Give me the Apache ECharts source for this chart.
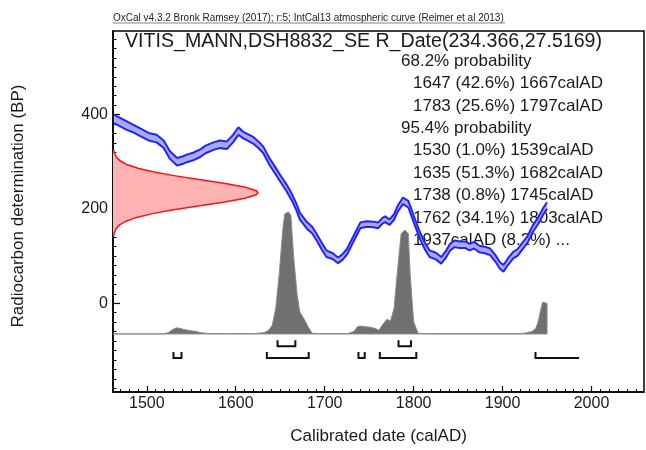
<!DOCTYPE html>
<html>
<head>
<meta charset="utf-8">
<title>OxCal R_Date VITIS_MANN,DSH8832_SE</title>
<script src="https://cdn.jsdelivr.net/npm/echarts@6.0.0/dist/echarts.min.js"></script>
<style>
html,body{margin:0;padding:0;background:#ffffff;}
#chart{width:646px;height:450px;}
</style>
</head>
<body>
<div id="chart"></div>
<script>
// ---------- data ----------
// IntCal13 calibration curve (calAD, 14C BP centre, 1-sigma)
const calYears = [1463,1470,1477,1485,1492,1502,1511,1519,1526,1534,1540,1545,1552,1560,1566,1575,1582,1590,1597,1603,1608,1613,1620,1626,1631,1638,1645,1650,1657,1663,1668,1672,1680,1686,1691,1697,1702,1709,1715,1720,1725,1732,1740,1747,1755,1760,1765,1768,1773,1778,1782,1788,1794,1797,1800,1807,1813,1818,1825,1831,1836,1841,1846,1852,1858,1863,1868,1874,1880,1886,1892,1897,1901,1906,1912,1917,1923,1928,1934,1940,1946,1950];
const calBP = [391,384,377,370,363,353,349,337,314,300,303,307,311,318,326,333,337,335,349,365,357,352,345,335,325,300,280,265,245,225,205,185,165,155,140,120,105,100,91,98,109,135,165,168,167,165,175,178,172,183,200,217,210,195,179,144,120,105,100,91,103,119,126,124,124,119,123,115,113,109,95,80,74,88,102,108,123,135,158,175,196,207];
const calSigma = [9,9,9,8,8,8,8,8,8,8, 8,8,8,8,8,8,8,8,8,8, 7,7,7,7,7,7,7,7,7,7, 7,7,7,7,7,7,7,6,6,6, 6,6,6,6,6,6,6,6,6,6, 6,7,7,7,7,7,7,7,7,7, 7,7,7,7,7,7,7,7,7,7, 7,7,7,7,7,7,7,7,7,7,7,7];

// Radiocarbon measurement distribution (BP value, drawn width in years from the left axis)
const rdBP = [142,150,158,166,174,182,190,198,206,214,222,230,234,238,246,254,262,270,278,286,294,302,310,318,326];
const rdWidth = [0.6,1.5,3.4,7.4,14.6,26.5,44.2,67.9,95.6,123.7,147.2,160.9,163,161.6,149.1,126.4,98.5,70.5,46.4,28.0,15.6,8.0,3.7,1.6,0.6];

// Calibrated date probability (relative)
const distYears = [1462,1518,1524,1529,1533,1537,1542,1548,1554,1560,1566,1572,1590,1620,1632,1637,1641,1645,1649,1653,1655,1659,1662,1665,1669,1672,1677,1682,1686,1700,1726,1733,1737,1740,1745,1751,1757,1761,1765,1770,1774,1778,1782,1786,1790,1794,1796,1800,1805,1830,1920,1927,1933,1937,1940,1943,1945,1950];
const distProb = [0,0,0.01,0.035,0.05,0.046,0.036,0.028,0.022,0.012,0.005,0.003,0.002,0.003,0.01,0.03,0.07,0.21,0.5,0.86,0.98,1.0,0.97,0.64,0.32,0.18,0.12,0.05,0.005,0.002,0.003,0.02,0.06,0.065,0.06,0.055,0.045,0.03,0.075,0.12,0.105,0.21,0.53,0.82,0.85,0.82,0.5,0.1,0.005,0.001,0.001,0.01,0.02,0.04,0.1,0.2,0.26,0.25];

// Highest probability ranges [start, end, open-ended?]
const range68 = [[1647,1667,0],[1783,1797,0]];
const range95 = [[1530,1539,0],[1635,1682,0],[1738,1745,0],[1762,1803,0],[1937,1986,1]];

// Axis ticks / labels
const xTickLabels = [1500,1600,1700,1800,1900,2000];
const yTickLabels = [0,200,400];

// Texts
const headerText = 'OxCal v4.3.2 Bronk Ramsey (2017); r:5; IntCal13 atmospheric curve (Reimer et al 2013)';
const titleText = 'VITIS_MANN,DSH8832_SE R_Date(234.366,27.5169)';
const xAxisTitle = 'Calibrated date (calAD)';
const yAxisTitle = 'Radiocarbon determination (BP)';
const rangeLines = [
  ['68.2% probability', 0],
  ['1647 (42.6%) 1667calAD', 1],
  ['1783 (25.6%) 1797calAD', 1],
  ['95.4% probability', 0],
  ['1530 (1.0%) 1539calAD', 1],
  ['1635 (51.3%) 1682calAD', 1],
  ['1738 (0.8%) 1745calAD', 1],
  ['1762 (34.1%) 1803calAD', 1],
  ['1937calAD (8.2%) ...', 1]
];

// ---------- layout / style constants ----------
const X_MIN = 1462, X_MAX = 2059, Y_MIN = -188, Y_MAX = 577;
const DIST_BASE = -65, DIST_SCALE = 259;     // BP units
const ROW68 = -91, ROW95 = -116, BRACKET_TICK = 6;
const FONT = '"Liberation Sans", Arial, Helvetica, sans-serif';

const xMinor = [], yMinor = [];
for (let v = 1470; v <= 2050; v += 10) xMinor.push(v);
for (let v = -180; v <= 560; v += 20) yMinor.push(v);

const upper = calYears.map((y, i) => [y, calBP[i] + calSigma[i]]);
const lower = calYears.map((y, i) => [y, calBP[i] - calSigma[i]]);

function singleShape(z, build) {
  return {
    type: 'custom', coordinateSystem: 'cartesian2d', z: z, silent: true,
    data: [[X_MIN, 0]], clip: true,
    renderItem: function (params, api) { return build(api); }
  };
}

const chart = echarts.init(document.getElementById('chart'), null, {renderer: 'canvas'});

const option = {
  animation: false,
  backgroundColor: '#ffffff',
  grid: {left: 113, right: 2, top: 31, bottom: 56, show: true, borderColor: '#000', borderWidth: 1.5, backgroundColor: 'transparent'},
  xAxis: [
    {
      type: 'value', min: X_MIN, max: X_MAX, position: 'bottom', splitLine: {show: false},
      axisLine: {show: true, onZero: false, lineStyle: {color: '#000', width: 1.5}},
      axisTick: {show: true, inside: true, length: 6, customValues: xTickLabels, lineStyle: {color: '#000', width: 1.2}},
      axisLabel: {customValues: xTickLabels, margin: 4, fontSize: 16, color: '#1a1a1a', fontFamily: FONT,
                  formatter: v => String(v)}
    },
    {
      type: 'value', min: X_MIN, max: X_MAX, position: 'bottom', offset: 0, splitLine: {show: false},
      axisLine: {show: false, onZero: false},
      axisTick: {show: true, inside: true, length: 3, customValues: xMinor, lineStyle: {color: '#000', width: 1}},
      axisLabel: {show: false},
      name: xAxisTitle, nameLocation: 'middle', nameGap: 36,
      nameTextStyle: {fontSize: 17, color: '#1a1a1a', fontFamily: FONT}
    }
  ],
  yAxis: [
    {
      type: 'value', min: Y_MIN, max: Y_MAX, position: 'left', splitLine: {show: false},
      axisLine: {show: true, onZero: false, lineStyle: {color: '#000', width: 1.5}},
      axisTick: {show: true, inside: true, length: 7, customValues: yTickLabels, lineStyle: {color: '#000', width: 1.2}},
      axisLabel: {customValues: yTickLabels, margin: 5, fontSize: 16, color: '#1a1a1a', fontFamily: FONT,
                  formatter: v => String(v)}
    },
    {
      type: 'value', min: Y_MIN, max: Y_MAX, position: 'left', offset: 0, splitLine: {show: false},
      axisLine: {show: false, onZero: false},
      axisTick: {show: true, inside: true, length: 3.5, customValues: yMinor, lineStyle: {color: '#000', width: 1}},
      axisLabel: {show: false}
    }
  ],
  graphic: [
    {type: 'text', x: 113, y: 18, style: {text: headerText, font: '10px ' + FONT, fill: '#222', align: 'left', verticalAlign: 'middle'}},
    {type: 'line', shape: {x1: 113, y1: 23, x2: 505, y2: 23}, style: {stroke: '#666', lineWidth: 0.8}},
    {type: 'text', x: 125, y: 42, style: {text: titleText, font: '19.6px ' + FONT, fill: '#1a1a1a', align: 'left', verticalAlign: 'middle'}},
    {type: 'text', x: 18, y: 206, rotation: Math.PI / 2,
     style: {text: yAxisTitle, font: '17px ' + FONT, fill: '#1a1a1a', align: 'center', verticalAlign: 'middle'}}
  ].concat(rangeLines.map((r, i) => ({
    type: 'text', x: r[1] ? 413 : 401, y: 61 + i * 22.45,
    style: {text: r[0], font: '17px ' + FONT, fill: '#1a1a1a', align: 'left', verticalAlign: 'middle'}
  }))),
  series: [
    // calibrated distribution (grey)
    singleShape(2, function (api) {
      const pts = [api.coord([distYears[0], DIST_BASE])]
        .concat(distYears.map((y, i) => api.coord([y, DIST_BASE + distProb[i] * DIST_SCALE])))
        .concat([api.coord([distYears[distYears.length - 1], DIST_BASE])]);
      return {type: 'polygon', shape: {points: pts}, style: {fill: '#707070', stroke: '#8a8a8a', lineWidth: 1}};
    }),
    // radiocarbon measurement (red)
    singleShape(3, function (api) {
      const curve = rdBP.map((b, i) => api.coord([X_MIN + rdWidth[i], b]));
      const poly = [api.coord([X_MIN, rdBP[0]])].concat(curve).concat([api.coord([X_MIN, rdBP[rdBP.length - 1]])]);
      return {type: 'group', children: [
        {type: 'polygon', shape: {points: poly}, style: {fill: '#ffb3b3'}},
        {type: 'polyline', shape: {points: curve}, style: {stroke: '#ff1010', lineWidth: 1.5, fill: null}}
      ]};
    }),
    // calibration band fill
    singleShape(4, function (api) {
      const pts = upper.map(p => api.coord(p)).concat(lower.slice().reverse().map(p => api.coord(p)));
      return {type: 'polygon', shape: {points: pts}, style: {fill: '#a9acf4'}};
    }),
    {type: 'line', z: 5, data: upper, showSymbol: false, silent: true,
     lineStyle: {color: '#2222ff', width: 2}},
    {type: 'line', z: 5, data: lower, showSymbol: false, silent: true,
     lineStyle: {color: '#2222ff', width: 2}},
    // ranges
    {
      type: 'custom', coordinateSystem: 'cartesian2d', z: 6, silent: true,
      data: range68.map(r => [r[0], r[1], 0, r[2]]).concat(range95.map(r => [r[0], r[1], 1, r[2]])),
      renderItem: function (params, api) {
        const s = api.value(0), e = api.value(1), row = api.value(2), open = api.value(3);
        const yv = row === 0 ? ROW68 : ROW95;
        const a = api.coord([s, yv]), b = api.coord([e, yv]);
        const pts = open ? [[a[0], a[1] - BRACKET_TICK], a, b]
                         : [[a[0], a[1] - BRACKET_TICK], a, b, [b[0], b[1] - BRACKET_TICK]];
        return {type: 'polyline', shape: {points: pts}, style: {stroke: '#111', lineWidth: 2, fill: null}};
      }
    }
  ]
};
chart.setOption(option);
</script>
</body>
</html>
